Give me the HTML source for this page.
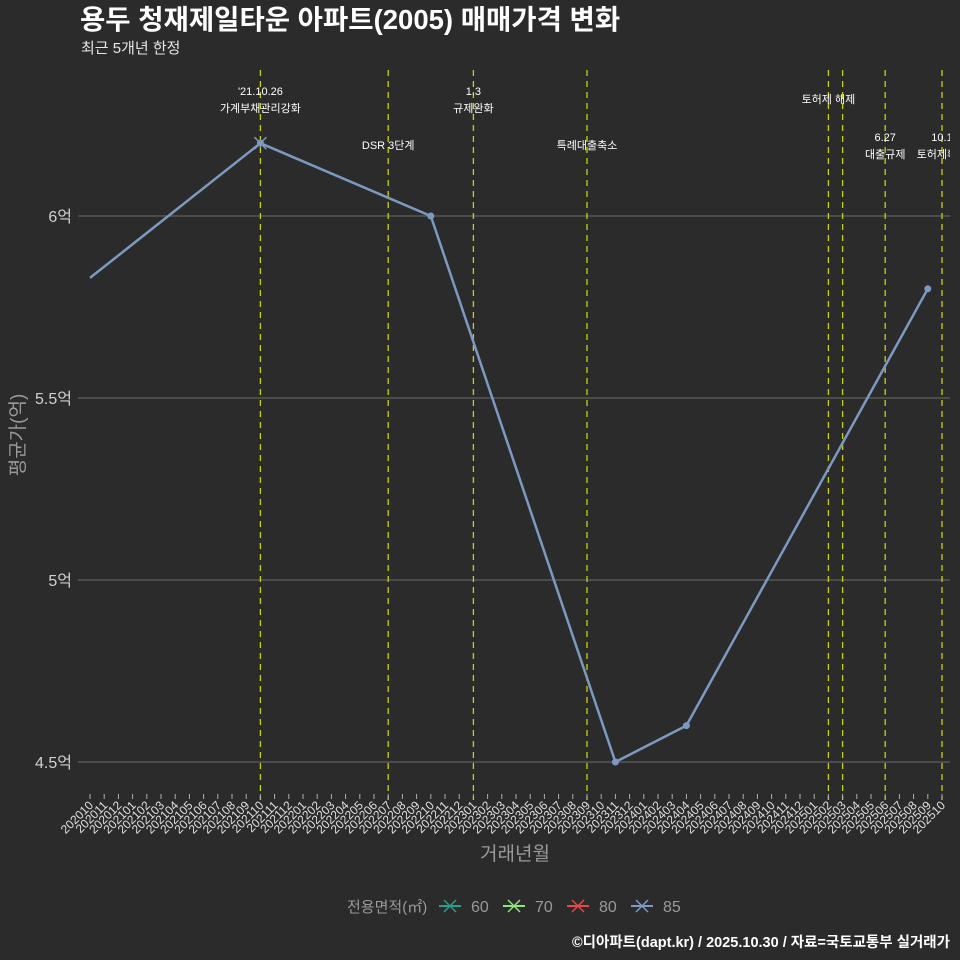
<!DOCTYPE html>
<html><head><meta charset="utf-8">
<style>
html,body{margin:0;padding:0;background:#2b2b2b;}
svg{display:block;font-family:"Liberation Sans","Noto Sans CJK KR",sans-serif;}
</style></head>
<body>
<svg id="chart" width="960" height="960" viewBox="0 0 960 960">
<defs><clipPath id="plotclip"><rect x="78" y="60" width="872" height="750"/></clipPath></defs>
<rect width="960" height="960" fill="#2b2b2b"/>
<text x="80" y="29" fill="#ffffff" font-size="27.5" font-weight="bold">용두 청재제일타운 아파트(2005) 매매가격 변화</text>
<text x="81" y="53" fill="#e6e6e6" font-size="15">최근 5개년 한정</text>
<g id="grid"></g>
<g id="events" clip-path="url(#plotclip)"></g>
<g id="series"></g>
<g id="xaxis"></g>
<g id="yaxis"></g>
<text x="515" y="860" fill="#9a9a9a" font-size="19" text-anchor="middle">거래년월</text>
<text transform="translate(24,435) rotate(-90)" fill="#9a9a9a" font-size="19" text-anchor="middle">평균가(억)</text>
<g>
<text x="347" y="912" fill="#9a9a9a" font-size="15">전용면적(㎡)</text>
<g id="legend"></g>
</g>
<text x="950" y="947" fill="#ffffff" font-size="14.5" font-weight="bold" text-anchor="end">©디아파트(dapt.kr) / 2025.10.30 / 자료=국토교통부 실거래가</text>
</svg>
<script>
const categories = [];
for (let y = 2020; y <= 2025; y++) for (let m = 1; m <= 12; m++) {
  const k = y * 100 + m;
  if (k >= 202010 && k <= 202510) categories.push(String(k));
}
const seriesMonths = ["202010","202110","202210","202311","202404","202509"];
const seriesValues = [5.83, 6.2, 6.0, 4.5, 4.6, 5.8];
const seriesMarkers = [false, true, true, true, true, true];
const yTicks = [4.5, 5, 5.5, 6];
const yTickLabels = ["4.5억","5억","5.5억","6억"];
const eventMonths = ["202110","202207","202301","202309","202502","202503","202506","202510"];
const eventLine1 = ["'21.10.26","","1.3","","","","6.27","10.1"];
const eventLine2 = ["가계부채관리강화","DSR 3단계","규제완화","특례대출축소","토허제 해제","","대출규제","토허제확대"];
const eventLevel = [0, 1, 0, 1, 0.5, 0, 1, 1];
const legendLabels = ["60","70","80","85"];
const legendColors = ["#2a9d8f","#8ee57a","#e5484d","#7c99c0"];

const NS = "http://www.w3.org/2000/svg";
const X0 = 90, X1 = 942;
function xScale(cat) { return X0 + categories.indexOf(cat) * (X1 - X0) / (categories.length - 1); }
function yScale(v) { return 216 + (6 - v) * 364; }
function mk(tag, attrs, parent, text) {
  const e = document.createElementNS(NS, tag);
  for (const k in attrs) e.setAttribute(k, attrs[k]);
  if (text !== undefined) e.textContent = text;
  parent.appendChild(e);
  return e;
}
const grid = document.getElementById('grid');
const yaxis = document.getElementById('yaxis');
yTicks.forEach((v, i) => {
  const l = mk('line', {x1: 78, x2: 950, y1: yScale(v), y2: yScale(v), stroke: '#6e6e6e', 'stroke-width': 1}, grid);
  
  
  const t = mk('text', {x: 72, y: yScale(v) + 6, fill: '#d0d0d0', 'font-size': 16, 'text-anchor': 'end'}, yaxis, yTickLabels[i]);
  
  
});
const xaxis = document.getElementById('xaxis');
categories.forEach(c => {
  const x = xScale(c);
  const tk = mk('line', {x1: x, x2: x, y1: 794, y2: 799, stroke: '#b0b0b0', 'stroke-width': 1}, xaxis);
  
  
  const t = mk('text', {x: x + 4, y: 806, fill: '#e0e0e0', 'font-size': 12, 'text-anchor': 'end', transform: `rotate(-45 ${x + 4} 806)`}, xaxis, c);
  
  
});
const ev = document.getElementById('events');
eventMonths.forEach((m, i) => {
  const x = xScale(m);
  const l = mk('line', {x1: x, x2: x, y1: 70, y2: 800, stroke: '#c8d400', 'stroke-width': 1.3, 'stroke-dasharray': '6,5'}, ev);
  
  
  let y2 = eventLevel[i] === 0 ? 112 : eventLevel[i] === 1 ? (eventLine1[i] ? 158 : 149) : 103;
  if (eventLine2[i]) {
    const t = mk('text', {x: x, y: y2, fill: '#ffffff', 'font-size': 11, 'text-anchor': 'middle'}, ev, eventLine2[i]);
    
    
  }
  if (eventLine1[i]) {
    const t = mk('text', {x: x, y: y2 - 17, fill: '#ffffff', 'font-size': 11, 'text-anchor': 'middle'}, ev, eventLine1[i]);
    
    
  }
});
const sg = document.getElementById('series');
const pts = seriesMonths.map((m, i) => [xScale(m), yScale(seriesValues[i])]);
const pl = mk('polyline', {points: pts.map(p => p.join(',')).join(' '), fill: 'none', stroke: '#7c99c0', 'stroke-width': 2.5, 'stroke-linejoin': 'round'}, sg);


pts.forEach((p, i) => {
  if (!seriesMarkers[i]) return;
  const c = mk('circle', {cx: p[0], cy: p[1], r: 3.5, fill: '#7c99c0'}, sg);
  
  
  if (i === 1) {
    const g = mk('path', {d: `M${p[0]-6},${p[1]-6}L${p[0]+6},${p[1]+6}M${p[0]-6},${p[1]+6}L${p[0]+6},${p[1]-6}`, stroke: '#7c99c0', 'stroke-width': 1.5}, sg);
    
    
  }
});
const lg = document.getElementById('legend');
const lx = [439, 503, 567, 631];
legendLabels.forEach((lab, i) => {
  const x = lx[i], y = 906;
  const g = mk('g', {}, lg);
  
  
  mk('line', {x1: x, x2: x + 22, y1: y, y2: y, stroke: legendColors[i], 'stroke-width': 2}, g);
  mk('path', {d: `M${x+5},${y-6}L${x+17},${y+6}M${x+5},${y+6}L${x+17},${y-6}`, stroke: legendColors[i], 'stroke-width': 1.5}, g);
  mk('text', {x: x + 32, y: y + 6, fill: '#9a9a9a', 'font-size': 16}, g, lab);
});
</script>
</body></html>
